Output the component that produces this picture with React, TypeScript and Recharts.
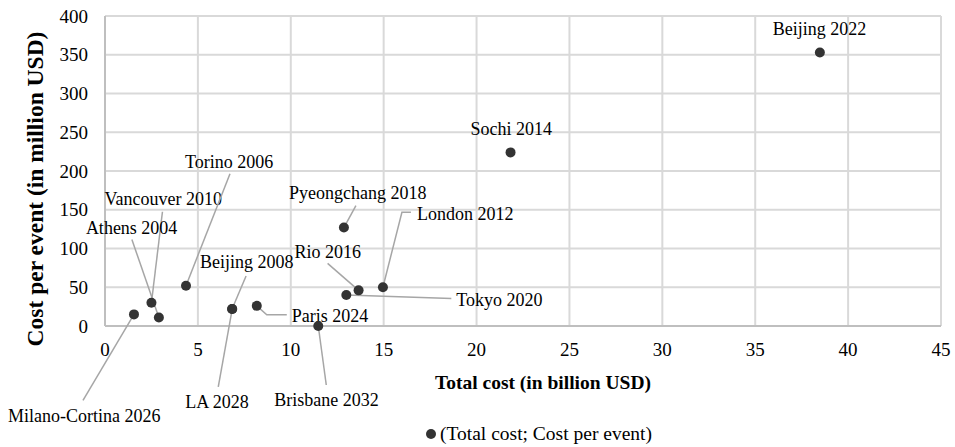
import React from 'react';
import {
  ScatterChart,
  Scatter,
  XAxis,
  YAxis,
  CartesianGrid,
  Legend,
} from 'recharts';

// Olympic host editions: total cost (billion USD) vs cost per event (million USD)
const games = [
  'Milano-Cortina 2026',
  'Vancouver 2010',
  'Athens 2004',
  'Torino 2006',
  'Beijing 2008',
  'LA 2028',
  'Paris 2024',
  'Brisbane 2032',
  'Pyeongchang 2018',
  'Tokyo 2020',
  'Rio 2016',
  'London 2012',
  'Sochi 2014',
  'Beijing 2022',
];
const totalCost = [1.56, 2.5, 2.9, 4.36, 6.84, 6.85, 8.17, 11.48, 12.86, 12.99, 13.65, 14.96, 21.83, 38.48];
const costPerEvent = [15, 30, 11, 52, 22, 22, 26, 0, 127, 40, 46, 50, 224, 353];

const xTicks = [0, 5, 10, 15, 20, 25, 30, 35, 40, 45];
const yTicks = [0, 50, 100, 150, 200, 250, 300, 350, 400];

const data = games.map((name, i) => ({ name, x: totalCost[i], y: costPerEvent[i] }));

const FONT = '"Liberation Serif", "Times New Roman", serif';
const DOT = '#333333';
const LEADER = '#a6a6a6';

// label placement in px relative to the dot: text left/middle and leader polyline
type Placement = { tx: number; ty: number; leader?: [number, number][] };
const placement: Record<string, Placement> = {
  'Milano-Cortina 2026': { tx: -126, ty: 101, leader: [[0, 0], [-51, 86]] },
  'Vancouver 2010': { tx: -47, ty: -104, leader: [[0, 0], [11, -91]] },
  'Athens 2004': { tx: -73, ty: -90, leader: [[0, 0], [-27, -78]] },
  'Torino 2006': { tx: -1, ty: -124, leader: [[0, 0], [44, -112]] },
  'Beijing 2008': { tx: -32, ty: -47, leader: [[0, 0], [14, -33]] },
  'LA 2028': { tx: -47, ty: 93, leader: [[0, 0], [-14, 78]] },
  'Paris 2024': { tx: 35, ty: 10, leader: [[0, 0], [10, 9], [30, 9]] },
  'Brisbane 2032': { tx: -44, ty: 74, leader: [[0, 0], [8, 59]] },
  'Pyeongchang 2018': { tx: -55, ty: -35, leader: [[0, 0], [12, -22]] },
  'Tokyo 2020': { tx: 110, ty: 5, leader: [[0, 0], [105, 3.5]] },
  'Rio 2016': { tx: -64, ty: -39, leader: [[0, 0], [-31, -27]] },
  'London 2012': { tx: 34, ty: -74, leader: [[0, 0], [19, -75], [28, -75]] },
  'Sochi 2014': { tx: -40, ty: -24 },
  'Beijing 2022': { tx: -47, ty: -24 },
};

const LabelShape = (props: any) => {
  const { cx, cy, payload } = props;
  const p = placement[payload.name];
  if (!p) return <g />;
  return (
    <g>
      {p.leader && (
        <polyline
          points={p.leader.map(([dx, dy]) => `${cx + dx},${cy + dy}`).join(' ')}
          fill="none"
          stroke={LEADER}
          strokeWidth={1.5}
        />
      )}
      <text x={cx + p.tx} y={cy + p.ty} dy="0.35em" fontSize={18} fontFamily={FONT} fill="#000">
        {payload.name}
      </text>
    </g>
  );
};

const DotShape = (props: any) => <circle cx={props.cx} cy={props.cy} r={5} fill={DOT} />;

const XTitle = ({ viewBox }: any) => (
  <text
    x={viewBox.x + viewBox.width / 2 + 20}
    y={viewBox.y + 56}
    dy="0.35em"
    textAnchor="middle"
    fontSize={19.5}
    fontWeight="bold"
    fontFamily={FONT}
    fill="#000"
  >
    Total cost (in billion USD)
  </text>
);

const YTitle = ({ viewBox }: any) => {
  const x = 35;
  const y = viewBox.y + viewBox.height / 2 + 18;
  return (
    <text
      x={x}
      y={y}
      dy="0.35em"
      textAnchor="middle"
      transform={`rotate(-90, ${x}, ${y})`}
      fontSize={23.5}
      fontWeight="bold"
      fontFamily={FONT}
      fill="#000"
    >
      Cost per event (in million USD)
    </text>
  );
};

const LegendContent = () => (
  <div style={{ paddingLeft: 425, height: 26, display: 'flex', alignItems: 'center', fontFamily: FONT, fontSize: 19.5, color: '#000' }}>
    <svg width={12} height={12} style={{ marginRight: 3 }}>
      <circle cx={6} cy={6} r={5} fill={DOT} />
    </svg>
    <span>(Total cost; Cost per event)</span>
  </div>
);

export default function App() {
  const tickStyle = { fontSize: 19, fontFamily: FONT, fill: '#000' };
  return (
    <div style={{ position: 'absolute', left: 0, top: 0, background: '#fff' }}>
      <ScatterChart width={955} height={447} margin={{ top: 16, right: 14, bottom: 0, left: 0 }}>
        <CartesianGrid stroke="#d9d9d9" strokeWidth={2} />
        <XAxis
          type="number"
          dataKey="x"
          domain={[0, 45]}
          ticks={xTicks}
          interval={0}
          height={95}
          tickSize={0}
          tickMargin={17}
          tick={tickStyle}
          axisLine={{ stroke: '#bfbfbf', strokeWidth: 2 }}
          tickLine={false}
          label={{ content: XTitle }}
        />
        <YAxis
          type="number"
          dataKey="y"
          domain={[0, 400]}
          ticks={yTicks}
          interval={0}
          width={105}
          tickSize={0}
          tickMargin={17}
          tick={tickStyle}
          axisLine={{ stroke: '#bfbfbf', strokeWidth: 2 }}
          tickLine={false}
          label={{ content: YTitle }}
        />
        <Legend verticalAlign="bottom" height={26} wrapperStyle={{ left: 0, width: 955 }} content={LegendContent} />
        <Scatter data={data} legendType="none" shape={LabelShape} isAnimationActive={false} />
        <Scatter name="(Total cost; Cost per event)" data={data} fill={DOT} shape={DotShape} isAnimationActive={false} />
      </ScatterChart>
    </div>
  );
}
